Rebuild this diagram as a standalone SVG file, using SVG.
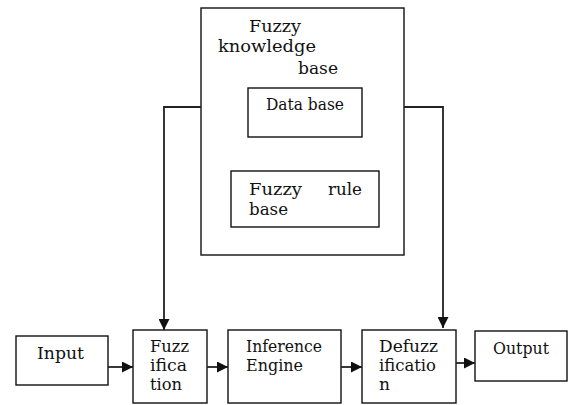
<svg xmlns="http://www.w3.org/2000/svg" width="568" height="405" viewBox="0 0 568 405">
<style>
rect{fill:#fff;stroke:#111;stroke-width:1.4}
text{font-family:"DejaVu Serif","Liberation Serif",serif;font-size:16px;fill:#111}
.c{fill:none;stroke:#222;stroke-width:1.8}
</style>
<defs>
<marker id="ah" viewBox="0 0 10 10" refX="10" refY="5" markerWidth="11" markerHeight="11" markerUnits="userSpaceOnUse" orient="auto">
<path d="M0,0 L10,5 L0,10 Z" fill="#111"/>
</marker>
</defs>
<rect width="568" height="405" style="fill:#fff;stroke:none"/>
<g id="knowledge-base">
<rect x="201" y="8" width="203" height="247"/>
<text x="249" y="32" textLength="52" lengthAdjust="spacingAndGlyphs">Fuzzy</text>
<text x="218" y="52" textLength="98" lengthAdjust="spacingAndGlyphs">knowledge</text>
<text x="298" y="74" textLength="40" lengthAdjust="spacingAndGlyphs">base</text>
</g>
<g id="data-base">
<rect x="248" y="88" width="114" height="49"/>
<text x="266" y="110" textLength="78" lengthAdjust="spacingAndGlyphs">Data base</text>
</g>
<g id="rule-base">
<rect x="231" y="171" width="148" height="56"/>
<text x="249" y="195" textLength="53" lengthAdjust="spacingAndGlyphs">Fuzzy</text>
<text x="328" y="195" textLength="34" lengthAdjust="spacingAndGlyphs">rule</text>
<text x="249" y="215" textLength="39" lengthAdjust="spacingAndGlyphs">base</text>
</g>
<g id="input">
<rect x="16" y="336" width="92" height="49"/>
<text x="37" y="359" textLength="47" lengthAdjust="spacingAndGlyphs">Input</text>
</g>
<g id="fuzzification">
<rect x="133" y="330" width="74" height="73"/>
<text x="150" y="352" textLength="39" lengthAdjust="spacingAndGlyphs">Fuzz</text>
<text x="150" y="371" textLength="37" lengthAdjust="spacingAndGlyphs">ifica</text>
<text x="150" y="390" textLength="32" lengthAdjust="spacingAndGlyphs">tion</text>
</g>
<g id="inference">
<rect x="228" y="330" width="113" height="73"/>
<text x="246" y="352" textLength="76" lengthAdjust="spacingAndGlyphs">Inference</text>
<text x="246" y="371" textLength="57" lengthAdjust="spacingAndGlyphs">Engine</text>
</g>
<g id="defuzzification">
<rect x="362" y="330" width="94" height="73"/>
<text x="379" y="352" textLength="59" lengthAdjust="spacingAndGlyphs">Defuzz</text>
<text x="379" y="371" textLength="57" lengthAdjust="spacingAndGlyphs">ificatio</text>
<text x="379" y="390" textLength="11" lengthAdjust="spacingAndGlyphs">n</text>
</g>
<g id="output">
<rect x="475" y="331" width="92" height="50"/>
<text x="493" y="354" textLength="56" lengthAdjust="spacingAndGlyphs">Output</text>
</g>
<g id="connectors">
<path class="c" d="M201,107 H164 V330" marker-end="url(#ah)"/>
<path class="c" d="M404,107 H443 V328" marker-end="url(#ah)"/>
<path class="c" d="M108,367 H133" marker-end="url(#ah)"/>
<path class="c" d="M207,367 H228" marker-end="url(#ah)"/>
<path class="c" d="M341,367 H362" marker-end="url(#ah)"/>
<path class="c" d="M456,363 H475" marker-end="url(#ah)"/>
</g>
</svg>
